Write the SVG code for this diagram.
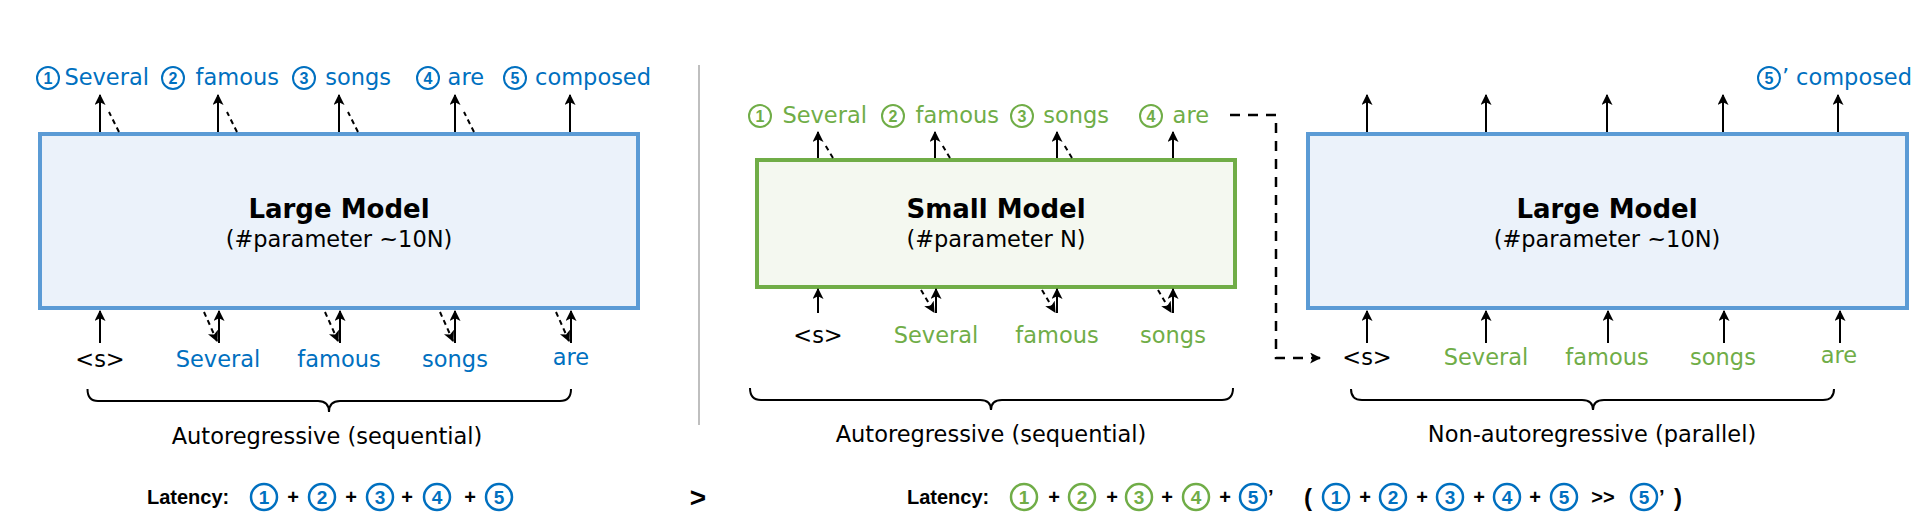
<svg xmlns="http://www.w3.org/2000/svg" width="1921" height="522" viewBox="0 0 1921 522">
<defs>
<marker id="ah" viewBox="0 0 10 10" refX="9" refY="5" markerWidth="11" markerHeight="11" markerUnits="userSpaceOnUse" orient="auto">
<path d="M0,0 L10,5 L0,10 L2.5,5 z" fill="#000"/>
</marker>
<style>
.lbl{font-family:"DejaVu Sans",Verdana,sans-serif;font-size:22.5px}
.blue{fill:#0070C0}
.green{fill:#70AD47}
.blk{fill:#000}
.title{font-family:"DejaVu Sans",Verdana,sans-serif;font-size:26px;font-weight:bold;fill:#000;text-anchor:middle}
.sub{font-family:"DejaVu Sans",Verdana,sans-serif;font-size:22.5px;fill:#000;text-anchor:middle}
.mid{text-anchor:middle}
.end{text-anchor:end}
.arr{stroke:#000;stroke-width:2;fill:none;marker-end:url(#ah)}
.dl{stroke:#000;stroke-width:2;fill:none;stroke-dasharray:5,4}
.da{stroke:#000;stroke-width:2;fill:none;stroke-dasharray:5,4;marker-end:url(#ah)}
.brace{stroke:#000;stroke-width:2;fill:none}
.cb{fill:#fff;stroke:#0070C0;stroke-width:2}
.cg{fill:#fff;stroke:#70AD47;stroke-width:2}
.dg{font-family:"Liberation Sans",Arial,sans-serif;font-weight:bold;font-size:16px;text-anchor:middle}
.lat{font-family:"Liberation Sans",Arial,sans-serif;font-weight:bold;font-size:20px;fill:#000}
.ldg{font-family:"Liberation Sans",Arial,sans-serif;font-weight:bold;font-size:19px;text-anchor:middle}
.lcb{fill:#fff;stroke:#0070C0;stroke-width:2.5}
.lcg{fill:#fff;stroke:#70AD47;stroke-width:2.5}
</style>
</defs>

<!-- separator -->
<line x1="699" y1="65" x2="699" y2="425" stroke="#BFBFBF" stroke-width="2"/>

<!-- Left large model -->
<g id="left-large-model">
<rect x="40" y="134" width="598" height="174" fill="#EBF2FA" stroke="#5B9BD5" stroke-width="4"/>
<text class="title" x="339" y="218">Large Model</text>
<text class="sub" x="339" y="247">(#parameter ~10N)</text>
</g>

<g id="left-outputs">
<circle class="cb" cx="48" cy="78" r="11"/><text class="dg blue" x="48" y="84">1</text>
<text class="lbl blue end" x="149" y="85">Several</text>
<circle class="cb" cx="173" cy="78" r="11"/><text class="dg blue" x="173" y="84">2</text>
<text class="lbl blue end" x="279" y="85">famous</text>
<circle class="cb" cx="304" cy="78" r="11"/><text class="dg blue" x="304" y="84">3</text>
<text class="lbl blue end" x="391" y="85">songs</text>
<circle class="cb" cx="428" cy="78" r="11"/><text class="dg blue" x="428" y="84">4</text>
<text class="lbl blue end" x="484" y="85">are</text>
<circle class="cb" cx="515" cy="78" r="11"/><text class="dg blue" x="515" y="84">5</text>
<text class="lbl blue end" x="651" y="85">composed</text>
</g>

<g id="left-inputs">
<text class="lbl blk mid" x="100" y="367">&lt;s&gt;</text>
<text class="lbl blue mid" x="218" y="367">Several</text>
<text class="lbl blue mid" x="339" y="367">famous</text>
<text class="lbl blue mid" x="455" y="367">songs</text>
<text class="lbl blue mid" x="571" y="365">are</text>
<path class="brace" d="M87.5,389 Q87.5,401 98,401 H318 Q329,401 329,412 Q329,401 340,401 H560 Q571,401 571,389"/>
<text class="sub" x="327" y="444">Autoregressive (sequential)</text>
</g>

<!-- Small model -->
<g id="small-model">
<rect x="757" y="160" width="478" height="127" fill="#F4F8F0" stroke="#70AD47" stroke-width="4"/>
<text class="title" x="996" y="218">Small Model</text>
<text class="sub" x="996" y="247">(#parameter N)</text>
</g>

<g id="small-outputs">
<circle class="cg" cx="760" cy="116" r="11"/><text class="dg green" x="760" y="122">1</text>
<text class="lbl green end" x="867" y="123">Several</text>
<circle class="cg" cx="893" cy="116" r="11"/><text class="dg green" x="893" y="122">2</text>
<text class="lbl green end" x="999" y="123">famous</text>
<circle class="cg" cx="1022" cy="116" r="11"/><text class="dg green" x="1022" y="122">3</text>
<text class="lbl green end" x="1109" y="123">songs</text>
<circle class="cg" cx="1151" cy="116" r="11"/><text class="dg green" x="1151" y="122">4</text>
<text class="lbl green end" x="1209" y="123">are</text>
</g>

<g id="small-inputs">
<text class="lbl blk mid" x="818" y="343">&lt;s&gt;</text>
<text class="lbl green mid" x="936" y="343">Several</text>
<text class="lbl green mid" x="1057" y="343">famous</text>
<text class="lbl green mid" x="1173" y="343">songs</text>
<path class="brace" d="M750,388 Q750,400 761,400 H980 Q991,400 991,410 Q991,400 1002,400 H1222 Q1233,400 1233,388"/>
<text class="sub" x="991" y="442">Autoregressive (sequential)</text>
</g>

<!-- Right large model -->
<g id="right-large-model">
<rect x="1308" y="134" width="599" height="174" fill="#EBF2FA" stroke="#5B9BD5" stroke-width="4"/>
<text class="title" x="1607" y="218">Large Model</text>
<text class="sub" x="1607" y="247">(#parameter ~10N)</text>
</g>

<g id="right-outputs">
<circle class="cb" cx="1769" cy="78" r="11"/><text class="dg blue" x="1769" y="84">5</text>
<text class="lbl blue" x="1782" y="85">’</text>
<text class="lbl blue end" x="1912" y="85">composed</text>
</g>

<g id="right-inputs">
<text class="lbl blk mid" x="1367" y="365">&lt;s&gt;</text>
<text class="lbl green mid" x="1486" y="365">Several</text>
<text class="lbl green mid" x="1607" y="365">famous</text>
<text class="lbl green mid" x="1723" y="365">songs</text>
<text class="lbl green mid" x="1839" y="363">are</text>
<path class="brace" d="M1351,389 Q1351,400 1362,400 H1582 Q1593,400 1593,410 Q1593,400 1604,400 H1823 Q1834,400 1834,389"/>
<text class="sub" x="1592" y="442">Non-autoregressive (parallel)</text>
</g>

<!-- connectors -->
<g id="connectors">
<!-- left top -->
<line class="arr" x1="100" y1="132" x2="100" y2="95"/>
<line class="arr" x1="218" y1="132" x2="218" y2="95"/>
<line class="arr" x1="339" y1="132" x2="339" y2="95"/>
<line class="arr" x1="455" y1="132" x2="455" y2="95"/>
<line class="arr" x1="570" y1="132" x2="570" y2="95"/>
<line class="dl" x1="119" y1="132" x2="109" y2="112"/>
<line class="dl" x1="237" y1="132" x2="227" y2="112"/>
<line class="dl" x1="358" y1="132" x2="348" y2="112"/>
<line class="dl" x1="474" y1="132" x2="464" y2="112"/>
<!-- left bottom -->
<line class="arr" x1="100" y1="343" x2="100" y2="311"/>
<line class="arr" x1="219" y1="343" x2="219" y2="311"/>
<line class="arr" x1="340" y1="343" x2="340" y2="311"/>
<line class="arr" x1="455" y1="343" x2="455" y2="311"/>
<line class="arr" x1="571" y1="343" x2="571" y2="311"/>
<line class="da" x1="204" y1="312" x2="217" y2="341"/>
<line class="da" x1="325" y1="312" x2="338" y2="341"/>
<line class="da" x1="440" y1="312" x2="453" y2="341"/>
<line class="da" x1="556" y1="312" x2="569" y2="341"/>
<!-- small top -->
<line class="arr" x1="818" y1="158" x2="818" y2="132"/>
<line class="arr" x1="935" y1="158" x2="935" y2="132"/>
<line class="arr" x1="1057" y1="158" x2="1057" y2="132"/>
<line class="arr" x1="1173" y1="158" x2="1173" y2="132"/>
<line class="dl" x1="833" y1="158" x2="824" y2="143"/>
<line class="dl" x1="950" y1="158" x2="941" y2="143"/>
<line class="dl" x1="1072" y1="158" x2="1063" y2="143"/>
<!-- small bottom -->
<line class="arr" x1="818" y1="313" x2="818" y2="289"/>
<line class="arr" x1="936" y1="313" x2="936" y2="289"/>
<line class="arr" x1="1057" y1="313" x2="1057" y2="289"/>
<line class="arr" x1="1173" y1="313" x2="1173" y2="289"/>
<line class="da" x1="921" y1="290" x2="934" y2="312"/>
<line class="da" x1="1042" y1="290" x2="1055" y2="312"/>
<line class="da" x1="1158" y1="290" x2="1171" y2="312"/>
<!-- right top -->
<line class="arr" x1="1367" y1="132" x2="1367" y2="95"/>
<line class="arr" x1="1486" y1="132" x2="1486" y2="95"/>
<line class="arr" x1="1607" y1="132" x2="1607" y2="95"/>
<line class="arr" x1="1723" y1="132" x2="1723" y2="95"/>
<line class="arr" x1="1838" y1="132" x2="1838" y2="95"/>
<!-- right bottom -->
<line class="arr" x1="1367" y1="343" x2="1367" y2="311"/>
<line class="arr" x1="1486" y1="343" x2="1486" y2="311"/>
<line class="arr" x1="1608" y1="343" x2="1608" y2="311"/>
<line class="arr" x1="1724" y1="343" x2="1724" y2="311"/>
<line class="arr" x1="1840" y1="343" x2="1840" y2="311"/>
<!-- handoff -->
<path d="M1230,115 H1276 V358 H1320" stroke="#000" stroke-width="2.5" fill="none" stroke-dasharray="10,8" marker-end="url(#ah)"/>
</g>

<!-- latency rows -->
<g id="latency-left">
<text class="lat" x="147" y="504">Latency:</text>
<circle class="lcb" cx="264" cy="497" r="13"/><text class="ldg blue" x="264" y="504">1</text>
<text class="lat mid" x="293" y="504">+</text>
<circle class="lcb" cx="322" cy="497" r="13"/><text class="ldg blue" x="322" y="504">2</text>
<text class="lat mid" x="351" y="504">+</text>
<circle class="lcb" cx="380" cy="497" r="13"/><text class="ldg blue" x="380" y="504">3</text>
<text class="lat mid" x="407" y="504">+</text>
<circle class="lcb" cx="437" cy="497" r="13"/><text class="ldg blue" x="437" y="504">4</text>
<text class="lat mid" x="470" y="504">+</text>
<circle class="lcb" cx="499" cy="497" r="13"/><text class="ldg blue" x="499" y="504">5</text>
</g>

<text class="lat mid" x="698" y="507" style="font-size:28px">&gt;</text>

<g id="latency-right">
<text class="lat" x="907" y="504">Latency:</text>
<circle class="lcg" cx="1024" cy="497" r="13"/><text class="ldg green" x="1024" y="504">1</text>
<text class="lat mid" x="1054" y="504">+</text>
<circle class="lcg" cx="1082" cy="497" r="13"/><text class="ldg green" x="1082" y="504">2</text>
<text class="lat mid" x="1112" y="504">+</text>
<circle class="lcg" cx="1139" cy="497" r="13"/><text class="ldg green" x="1139" y="504">3</text>
<text class="lat mid" x="1167" y="504">+</text>
<circle class="lcg" cx="1196" cy="497" r="13"/><text class="ldg green" x="1196" y="504">4</text>
<text class="lat mid" x="1225" y="504">+</text>
<circle class="lcb" cx="1253" cy="497" r="13"/><text class="ldg blue" x="1253" y="504">5</text>
<text class="lat" x="1268" y="504">’</text>
<text class="lat mid" x="1308" y="506" style="font-size:24px">(</text>
<circle class="lcb" cx="1336" cy="497" r="13"/><text class="ldg blue" x="1336" y="504">1</text>
<text class="lat mid" x="1365" y="504">+</text>
<circle class="lcb" cx="1393" cy="497" r="13"/><text class="ldg blue" x="1393" y="504">2</text>
<text class="lat mid" x="1422" y="504">+</text>
<circle class="lcb" cx="1450" cy="497" r="13"/><text class="ldg blue" x="1450" y="504">3</text>
<text class="lat mid" x="1479" y="504">+</text>
<circle class="lcb" cx="1507" cy="497" r="13"/><text class="ldg blue" x="1507" y="504">4</text>
<text class="lat mid" x="1535" y="504">+</text>
<circle class="lcb" cx="1564" cy="497" r="13"/><text class="ldg blue" x="1564" y="504">5</text>
<text class="lat mid" x="1603" y="504">&gt;&gt;</text>
<circle class="lcb" cx="1644" cy="497" r="13"/><text class="ldg blue" x="1644" y="504">5</text>
<text class="lat" x="1659" y="504">’</text>
<text class="lat mid" x="1678" y="506" style="font-size:24px">)</text>
</g>
</svg>
